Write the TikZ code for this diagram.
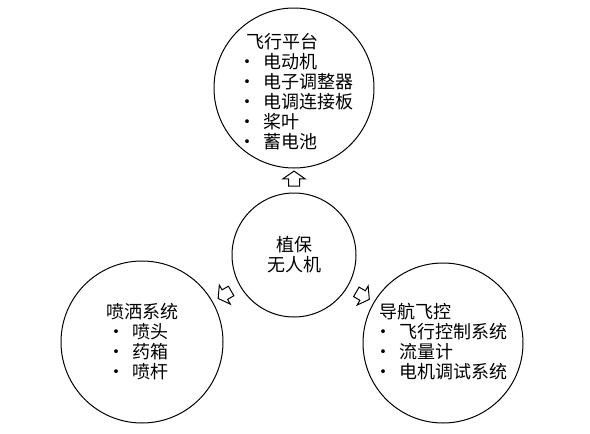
\documentclass[tikz,border=0pt]{standalone}
\usepackage{fontspec}
\setmainfont{Noto Sans CJK SC}
\usetikzlibrary{calc, positioning, shapes.arrows}

\newcommand{\bul}[1][17pt]{\makebox[#1][r]{·\hspace{7pt}}}

\begin{document}
\begin{tikzpicture}[x=1pt,y=-1pt,thick,
                    part node/.style={circle,draw,line width=1pt,inner sep=0pt,align=center,font=\fontsize{18}{20}\selectfont},
                    list node/.style={anchor=north west,align=left,inner sep=0pt,font=\fontsize{18}{20}\selectfont},
                    hollow arrow/.style={single arrow,draw,line width=1pt,minimum height=15pt,inner sep=5pt,
                                         single arrow head extend=5.5pt,single arrow tip angle=110}]

  \useasboundingbox (0,0) rectangle (590,434);

  \node[part node,minimum size=124pt] (hub) at (294,255) {植保\\无人机};
  \node[part node,minimum size=160pt] (fly) at (294,88) {};
  \node[part node,minimum size=162pt] (spray) at (142,342) {};
  \node[part node,minimum size=160pt] (nav) at (443,343) {};

  \node[list node] (flytext) at (246,33)
    {飞行平台\\\bul 电动机\\\bul 电子调整器\\\bul 电调连接板\\\bul 桨叶\\\bul 蓄电池};
  \node[list node] (spraytext) at (106,303)
    {喷洒系统\\\bul[26pt]喷头\\\bul[26pt]药箱\\\bul[26pt]喷杆};
  \node[list node] (navtext) at (379,303)
    {导航飞控\\\bul[20pt]飞行控制系统\\\bul[20pt]流量计\\\bul[20pt]电机调试系统};

  % hollow arrows from the hub out to each part
  \node[hollow arrow,rotate=90] (up) at ($(hub.north)!0.5!(fly.south)$) {};
  \node[hollow arrow,rotate=210] (left) at ($(hub)!78pt!(spray)$) {};
  \node[hollow arrow,rotate=-30] (right) at ($(hub)!78pt!(nav)$) {};
\end{tikzpicture}
\end{document}
